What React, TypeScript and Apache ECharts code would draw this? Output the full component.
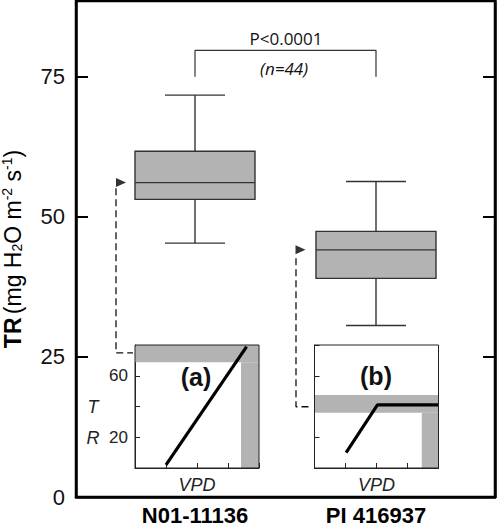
import React, { useEffect, useRef } from "react";
import * as echarts from "echarts";

// ---- data ----
const categories = ["N01-11136", "PI 416937"];
// [lower whisker, Q1, median, Q3, upper whisker]
const boxStats = [
  [45.3, 53.1, 56.1, 61.7, 71.7],
  [30.6, 39.0, 44.1, 47.4, 56.3],
];
const yTicks = [0, 25, 50, 75];
const rightTicks = [25, 50, 75];
const bracket = [
  [1, 75],
  [1, 79.7],
  [2, 79.7],
  [2, 75],
];
const pText = "P<0.0001";
const nText = "(n=44)";
const connectorA = [
  [0.5635, 55.1],
  [0.5635, 25.7],
  [0.6574, 25.7],
];
const connectorB = [
  [1.558, 42.6],
  [1.558, 16.1],
  [1.6447, 16.1],
];
const arrows = [
  [0.591, 56.1],
  [1.583, 44.1],
];
// insets (VPD vs TR)
const insetLabelsA = [20, 60];
const responseA = [
  [1.0, 2],
  [3.6, 79],
];
const responseB = [
  [1.02, 10],
  [2.03, 41],
  [4, 41],
];
// [x0, x1, y0, y1]
const bandsA = [
  [0, 4, 68.7, 80],
  [3.42, 4, 0, 68.7],
];
const bandsB = [
  [0, 4, 36, 47.5],
  [3.46, 4, 0, 36],
];

const FONT = "Liberation Sans, Arial, sans-serif";

function insetAxes(gridIndex: number, showLabels: boolean) {
  const x = {
    type: "value",
    gridIndex,
    min: 0,
    max: 4,
    interval: 1,
    axisLine: { show: true, lineStyle: { color: "#222", width: 1 } },
    axisTick: { inside: true, length: 5, lineStyle: { color: "#222", width: 1 } },
    axisLabel: { show: false },
    splitLine: { show: false },
    name: "VPD",
    nameLocation: "middle",
    nameGap: 8,
    nameTextStyle: {
      fontFamily: FONT,
      fontStyle: "italic",
      fontSize: 18,
      color: "#222",
      verticalAlign: "top",
    },
  };
  const y: any = {
    type: "value",
    gridIndex,
    min: 0,
    max: 80,
    interval: 20,
    axisLine: { show: true, lineStyle: { color: "#222", width: 1 } },
    axisTick: { inside: true, length: 5, lineStyle: { color: "#222", width: 1 } },
    axisLabel: showLabels
      ? {
          show: true,
          customValues: insetLabelsA,
          fontFamily: FONT,
          fontSize: 17,
          color: "#222",
          margin: 7,
        }
      : { show: false },
    splitLine: { show: false },
  };
  return { x, y };
}

function bandSeries(data: number[][], xAxisIndex: number, yAxisIndex: number) {
  return {
    type: "custom",
    xAxisIndex,
    yAxisIndex,
    z: 1,
    silent: true,
    data,
    encode: { x: [0, 1], y: [2, 3] },
    renderItem: (params: any, api: any) => {
      const p0 = api.coord([api.value(0), api.value(3)]);
      const p1 = api.coord([api.value(1), api.value(2)]);
      return {
        type: "rect",
        shape: { x: p0[0], y: p0[1], width: p1[0] - p0[0], height: p1[1] - p0[1] },
        style: { fill: "#b3b3b3" },
      };
    },
  };
}

export default function App() {
  const ref = useRef<HTMLDivElement>(null);
  useEffect(() => {
    if (!ref.current) return;
    const chart = echarts.init(ref.current, null, { renderer: "svg" });
    const a = insetAxes(1, true);
    const b = insetAxes(2, false);
    const option: any = {
      animation: false,
      backgroundColor: "#fff",
      grid: [
        {
          left: 76, right: 3, top: 1, bottom: 30, show: true, borderColor: "#000", borderWidth: 2.5,
          containLabel: false, outerBoundsMode: "none",
        },
        {
          left: 135, top: 345, width: 124, height: 123, show: true, borderColor: "#222", borderWidth: 1, z: 5,
          containLabel: false, outerBoundsMode: "none",
        },
        {
          left: 314.5, top: 345, width: 124, height: 123, show: true, borderColor: "#222", borderWidth: 1, z: 5,
          containLabel: false, outerBoundsMode: "none",
        },
      ],
      xAxis: [
        {
          type: "value",
          gridIndex: 0,
          min: 0.3425,
          max: 2.6575,
          axisLine: { show: true, lineStyle: { color: "#000", width: 2.5 } },
          axisTick: { show: false },
          splitLine: { show: false },
          axisLabel: {
            customValues: [1, 2],
            formatter: (v: number) => categories[Math.round(v) - 1] ?? "",
            fontFamily: FONT,
            fontSize: 22,
            lineHeight: 22,
            fontWeight: "bold",
            color: "#000",
            margin: 7,
          },
        },
        a.x,
        b.x,
      ],
      yAxis: [
        {
          type: "value",
          gridIndex: 0,
          min: 0,
          max: 88.5,
          interval: 25,
          axisLine: { show: true, lineStyle: { color: "#000", width: 2.5 } },
          axisTick: { inside: true, length: 12, customValues: yTicks, lineStyle: { color: "#000", width: 2 } },
          axisLabel: {
            customValues: yTicks,
            fontFamily: FONT,
            fontSize: 22,
            color: "#111",
            margin: 11,
          },
          splitLine: { show: false },
          name: "{b|TR} {n|(mg H}{sub|2}{n|O m}{sup|-2}{n| s}{sup|-1}{n|)}",
          nameLocation: "middle",
          nameRotate: 90,
          nameGap: 50,
          nameTextStyle: {
            color: "#000",
            rich: {
              b: { fontFamily: FONT, fontSize: 23, fontWeight: "bold", color: "#000" },
              n: { fontFamily: FONT, fontSize: 23, color: "#000" },
              sub: { fontFamily: FONT, fontSize: 14, color: "#000", padding: [8, 0, 0, 0] },
              sup: { fontFamily: FONT, fontSize: 14, color: "#000", padding: [0, 0, 12, 0] },
            },
          },
        },
        {
          type: "value",
          gridIndex: 0,
          position: "right",
          min: 0,
          max: 88.5,
          interval: 25,
          axisLine: { show: true, lineStyle: { color: "#000", width: 2.5 } },
          axisTick: { inside: true, length: 12, customValues: rightTicks, lineStyle: { color: "#000", width: 2 } },
          axisLabel: { show: false },
          splitLine: { show: false },
        },
        a.y,
        b.y,
      ],
      series: [
        {
          type: "custom",
          name: "TR",
          xAxisIndex: 0,
          yAxisIndex: 0,
          data: boxStats.map((s, i) => [i + 1, ...s]),
          encode: { x: 0, y: [1, 2, 3, 4, 5] },
          renderItem: (params: any, api: any) => {
            const x = api.value(0);
            const c = (v: number) => api.coord([x, v]);
            const cx = c(api.value(3))[0];
            const yLow = c(api.value(1))[1];
            const yQ1 = c(api.value(2))[1];
            const yMed = c(api.value(3))[1];
            const yQ3 = c(api.value(4))[1];
            const yHigh = c(api.value(5))[1];
            const hb = 60;
            const hc = 30;
            const ls = { stroke: "#333", lineWidth: 1.4 };
            return {
              type: "group",
              children: [
                { type: "line", shape: { x1: cx, y1: yQ3, x2: cx, y2: yHigh }, style: ls },
                { type: "line", shape: { x1: cx, y1: yQ1, x2: cx, y2: yLow }, style: ls },
                { type: "line", shape: { x1: cx - hc, y1: yHigh, x2: cx + hc, y2: yHigh }, style: ls },
                { type: "line", shape: { x1: cx - hc, y1: yLow, x2: cx + hc, y2: yLow }, style: ls },
                {
                  type: "rect",
                  shape: { x: cx - hb, y: yQ3, width: 2 * hb, height: yQ1 - yQ3 },
                  style: { fill: "#b3b3b3", stroke: "#333", lineWidth: 1.4 },
                },
                { type: "line", shape: { x1: cx - hb, y1: yMed, x2: cx + hb, y2: yMed }, style: ls },
              ],
            };
          },
        },
        {
          type: "line",
          name: "bracket",
          xAxisIndex: 0,
          yAxisIndex: 0,
          data: bracket,
          symbol: "none",
          lineStyle: { color: "#333", width: 1.2 },
          silent: true,
        },
        {
          type: "line",
          name: "connectorA",
          xAxisIndex: 0,
          yAxisIndex: 0,
          data: connectorA,
          symbol: "none",
          lineStyle: { color: "#111", width: 1.3, type: [7, 4] },
          silent: true,
        },
        {
          type: "line",
          name: "connectorB",
          xAxisIndex: 0,
          yAxisIndex: 0,
          data: connectorB,
          symbol: "none",
          lineStyle: { color: "#111", width: 1.3, type: [7, 4] },
          silent: true,
        },
        {
          type: "scatter",
          name: "arrows",
          xAxisIndex: 0,
          yAxisIndex: 0,
          data: arrows,
          symbol: "path://M0,0L10,5L0,10Z",
          symbolSize: [10, 9],
          itemStyle: { color: "#000" },
          silent: true,
        },
        bandSeries(bandsA, 1, 2),
        bandSeries(bandsB, 2, 3),
        {
          type: "line",
          name: "insetA",
          xAxisIndex: 1,
          yAxisIndex: 2,
          data: responseA,
          symbol: "none",
          z: 3,
          lineStyle: { color: "#000", width: 3.2 },
          silent: true,
        },
        {
          type: "line",
          name: "insetB",
          xAxisIndex: 2,
          yAxisIndex: 3,
          data: responseB,
          symbol: "none",
          z: 3,
          lineStyle: { color: "#000", width: 3.2 },
          silent: true,
        },
      ],
      graphic: [
        {
          type: "text",
          x: 286,
          y: 38,
          style: {
            text: pText,
            fontFamily: "Open Sans, sans-serif",
            fontSize: 17,
            fill: "#111",
            align: "center",
            verticalAlign: "middle",
          },
        },
        {
          type: "text",
          x: 284,
          y: 68,
          style: {
            text: nText,
            fontFamily: "Open Sans, sans-serif",
            fontStyle: "italic",
            fontSize: 17,
            fill: "#111",
            align: "center",
            verticalAlign: "middle",
          },
        },
        {
          type: "text",
          x: 196,
          y: 377,
          z: 10,
          style: {
            text: "(a)",
            fontFamily: FONT,
            fontWeight: "bold",
            fontSize: 25,
            fill: "#111",
            align: "center",
            verticalAlign: "middle",
          },
        },
        {
          type: "text",
          x: 376,
          y: 376,
          z: 10,
          style: {
            text: "(b)",
            fontFamily: FONT,
            fontWeight: "bold",
            fontSize: 25,
            fill: "#111",
            align: "center",
            verticalAlign: "middle",
          },
        },
        {
          type: "text",
          x: 93,
          y: 407,
          style: {
            text: "T",
            fontFamily: FONT,
            fontStyle: "italic",
            fontSize: 18,
            fill: "#222",
            align: "center",
            verticalAlign: "middle",
          },
        },
        {
          type: "text",
          x: 93,
          y: 438,
          style: {
            text: "R",
            fontFamily: FONT,
            fontStyle: "italic",
            fontSize: 18,
            fill: "#222",
            align: "center",
            verticalAlign: "middle",
          },
        },
      ],
    };
    chart.setOption(option);
    return () => chart.dispose();
  }, []);
  return (
    <div
      ref={ref}
      style={{ position: "fixed", left: 0, top: 0, width: 498, height: 527, background: "#fff" }}
    />
  );
}
